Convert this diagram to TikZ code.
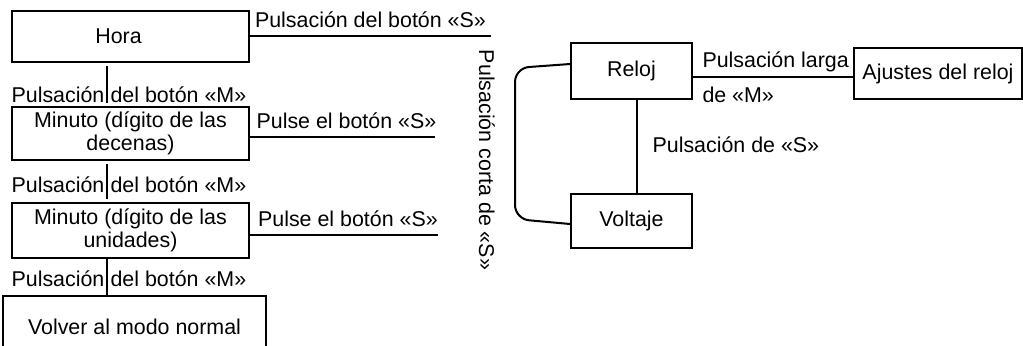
\documentclass[tikz,border=0pt]{standalone}
\usepackage{fontspec}
\setmainfont{Liberation Sans}
\usetikzlibrary{positioning}
\tikzset{
  estado/.style={draw, line width=0.9pt, align=center, inner sep=0pt},
  enlace/.style={line width=0.6pt},
  rotulo/.style={inner sep=0pt},
}
\begin{document}
\begin{tikzpicture}[x=0.5pt, y=-0.5pt, font=\fontsize{10.7pt}{11.5pt}\selectfont]
  \useasboundingbox (0,0) rectangle (1023,345);
  % ajuste de la hora
  \node[estado, minimum width=118.5pt, minimum height=25.5pt] (hora) at (130.5,36.5) {Hora\hspace*{12pt}};
  \node[estado, minimum width=118.5pt, minimum height=26.5pt] (dec) at (130.5,133.5) {Minuto (dígito de las\\decenas)};
  \node[estado, minimum width=118.5pt, minimum height=27.5pt] (uni) at (130.5,230.5) {Minuto (dígito de las\\unidades)};
  \node[estado, minimum width=131.5pt, minimum height=31pt] (normal) at (134.5,327) {Volver al modo normal};
  \coordinate (eje) at (107,0);
  \draw[enlace, shorten <=1.5pt, shorten >=1.5pt] (hora.south -| eje) -- (dec.north -| eje)
    node[rotulo, pos=.91, anchor=base east, xshift=-1pt] {Pulsación}
    node[rotulo, pos=.91, anchor=base west, xshift=1.5pt] {del botón «M»};
  \draw[enlace, shorten <=1.5pt, shorten >=1.5pt] (dec.south -| eje) -- (uni.north -| eje)
    node[rotulo, pos=.77, anchor=base east, xshift=-1pt] {Pulsación}
    node[rotulo, pos=.77, anchor=base west, xshift=1.5pt] {del botón «M»};
  \draw[enlace] (uni.south -| eje) -- (normal.north -| eje)
    node[rotulo, pos=.76, anchor=base east, xshift=-1pt] {Pulsación}
    node[rotulo, pos=.76, anchor=base west, xshift=1.5pt] {del botón «M»};
  % salidas con el boton S
  \coordinate (fin1) at (491,36);
  \coordinate (fin2) at (435,137);
  \coordinate (fin3) at (438,235);
  \draw[enlace] (hora.east |- fin1) -- (fin1)
    node[rotulo, midway, anchor=base, yshift=4.5pt] {Pulsación del botón «S»};
  \draw[enlace] (dec.east |- fin2) -- (fin2)
    node[rotulo, midway, anchor=base, xshift=2pt, yshift=4.5pt] {Pulse el botón «S»};
  \draw[enlace] (uni.east |- fin3) -- (fin3)
    node[rotulo, midway, anchor=base, xshift=2pt, yshift=4.5pt] {Pulse el botón «S»};
  \node[rotulo, rotate=-90] (corta) at (487,160) {Pulsación corta de «S»};
  % modo normal
  \node[estado, minimum width=60.5pt, minimum height=28pt] (reloj) at (631.5,71) {Reloj};
  \node[estado, minimum width=60.5pt, minimum height=27pt] (voltaje) at (631.5,221) {Voltaje};
  \node[estado, minimum width=84pt, minimum height=25.5pt] (ajustes) at (938,73.5) {Ajustes del reloj};
  \coordinate (nivel) at (0,77);
  \draw[enlace] (reloj.east |- nivel) -- (ajustes.west |- nivel)
    node[rotulo, pos=0, anchor=base west, xshift=4.5pt, yshift=5pt] {Pulsación larga}
    node[rotulo, pos=0, anchor=base west, xshift=4.5pt, yshift=-12.5pt] {de «M»};
  \coordinate (bajada) at (637,0);
  \draw[enlace] (reloj.south -| bajada) -- (voltaje.north -| bajada)
    node[rotulo, pos=.56, anchor=base west, xshift=7.5pt] {Pulsación de «S»};
  \draw[line width=1pt, rounded corners=7pt] ([yshift=3.5pt]reloj.west) -- (515,68) -- (515,219) -- ([yshift=-1.5pt]voltaje.west);
\end{tikzpicture}
\end{document}
